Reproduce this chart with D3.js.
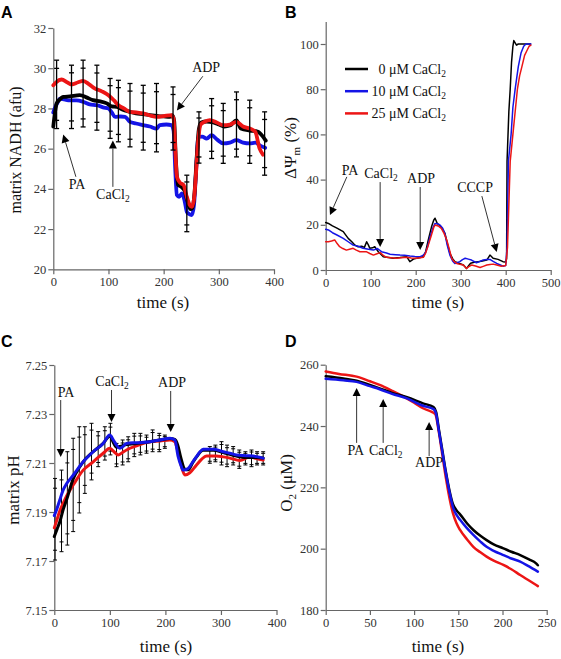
<!DOCTYPE html>
<html><head><meta charset="utf-8">
<script src="https://cdn.jsdelivr.net/npm/d3@7"></script>
<style>body{margin:0;background:#fff} svg, svg text, svg tspan{font-family:"Liberation Serif","Times New Roman",Times,serif}</style>
</head><body><svg id="c" width="561" height="659" style="font-family:'Liberation Serif',serif"></svg>
<script>
// ---------- DATA ----------
const seriesNames = ["0 μM CaCl", "10 μM CaCl", "25 μM CaCl"];
const seriesColors = ["#000000", "#1414e6", "#ec1515"];

// Panel A: matrix NADH (afu) vs time (s)
const nadh0 = [[0,27.1],[3,27.8],[6,28.25],[12,28.45],[18,28.57],[30,28.6],[48,28.66],[60,28.55],[72,28.41],[85,28.35],[97,28.25],[106,28.1],[115,28.08],[125,27.95],[139,27.83],[150,27.75],[163,27.72],[175,27.67],[190,27.62],[200,27.6],[211,27.58],[216,27.65],[219,27.4],[222,25.5],[226,24.2],[232,24.1],[238,23.9],[243,23.4],[248,23.0],[252,23.05],[256,23.8],[260,25.6],[264,27.0],[268,27.3],[278,27.35],[290,27.3],[300,27.2],[310,27.1],[320,27.15],[332,27.4],[340,27.0],[356,26.9],[370,26.85],[380,26.6],[385,26.4]];
const nadh10 = [[0,27.8],[4,28.1],[8,28.3],[12,28.49],[20,28.45],[30,28.4],[42,28.4],[54,28.33],[66,28.2],[79,28.16],[90,28.05],[100,28.0],[106,27.8],[112,27.58],[122,27.6],[130,27.58],[139,27.33],[150,27.25],[163,27.17],[175,27.1],[187,27.0],[193,27.17],[205,27.2],[214,27.17],[218,26.9],[221,25.0],[224,23.69],[228,23.6],[233,23.77],[238,23.4],[242,22.86],[246,22.75],[251,22.7],[255,23.2],[259,25.0],[263,26.59],[270,26.6],[278,26.5],[287,26.67],[297,26.45],[308,26.26],[320,26.3],[332,26.42],[344,26.3],[356,26.26],[366,26.3],[375,26.15],[384,26.04]];
const nadh25 = [[0,29.15],[5,29.3],[15,29.44],[25,29.3],[33,29.19],[45,29.3],[54,29.37],[65,29.2],[75,29.0],[88,28.85],[100,28.66],[110,28.4],[118,28.16],[128,28.0],[139,27.83],[150,27.8],[163,27.75],[175,27.65],[187,27.58],[200,27.62],[214,27.67],[218,27.5],[221,26.0],[224,24.6],[230,24.3],[236,24.2],[242,23.6],[247,23.2],[251,23.1],[255,23.5],[258,24.5],[262,26.2],[267,27.2],[275,27.35],[284,27.42],[296,27.3],[308,27.17],[320,27.2],[332,27.33],[344,27.1],[356,27.0],[366,26.84],[374,26.0],[380,25.7]];
// error bars: [time, upper, lower]
const nadhErr = [[6,30.4,27.0],[33,30.15,27.0],[54,30.4,27.08],[79,30.15,26.92],[103,29.49,26.51],[118,29.4,26.34],[139,29.24,26.09],[163,29.15,25.93],[187,29.24,25.84],[217,29.07,25.93],[242,24.68,21.87],[264,27.83,25.28],[287,28.49,25.51],[308,28.25,25.27],[332,28.82,25.59],[356,28.41,25.27],[383,27.83,24.68]];

// Panel B: ΔΨm (%) vs time (s)
const psi0 = [[0,21],[6,20.6],[15,19.5],[25,18.5],[39,17],[50,14],[58,12.5],[65,11],[72,10.3],[80,10.5],[86,10],[91,12.5],[95,11],[98,9.6],[104,9.8],[109,10.3],[117,8.1],[128,5.9],[140,5.5],[150,5.2],[165,5.5],[180,5.9],[187,3.7],[195,4.8],[202,5.2],[210,5.5],[217,5.9],[222,8],[228,13.3],[235,19],[240,22],[243,22.9],[248,20.6],[257,19],[265,16.2],[270,12],[276,7.4],[282,5],[287,3.7],[296,3],[306,2.2],[313,0.7],[318,2],[322,3],[330,3.4],[339,3.7],[348,4],[358,4.4],[365,6.6],[372,5.2],[383,4.7],[394,3.7],[400,3.5],[402,5],[403,48],[407,70],[410,80],[413,92],[416,99],[418,101.5],[421,100.5],[424,99.5],[428,100],[440,100],[455,100]];
const psi10 = [[0,18],[6,17.7],[15,16.5],[25,15.5],[39,14],[50,12.5],[61,11],[72,10.5],[83,9.6],[95,9.2],[106,8.8],[115,9.5],[124,8.1],[135,7.5],[143,7],[155,6.8],[165,6.6],[175,6.5],[187,6.2],[198,6.0],[210,5.9],[216,6.5],[221,7.4],[226,10],[232,14.8],[238,18.5],[243,20.6],[250,20.4],[254,19.9],[260,18.5],[265,16],[270,11],[276,6.6],[282,4],[287,2.9],[298,3.7],[304,4.6],[310,5.2],[317,4.8],[324,4.4],[335,3.2],[343,3.8],[350,4.4],[358,4.6],[365,4.7],[372,3.8],[380,2.9],[388,2.2],[394,1.7],[400,2],[403,10],[406,48],[412,60],[416,72],[421,80],[428,90],[434,96],[440,99],[445,100],[456,100]];
const psi25 = [[0,12.5],[6,12.5],[13,12.8],[20,13.3],[25,11.8],[31,10.3],[38,9.5],[46,8.8],[53,9.2],[61,9.6],[68,8.8],[76,8.1],[90,8.1],[98,7.3],[106,6.6],[114,7.2],[121,7.7],[128,6.5],[135,5.6],[145,5.4],[157,5.2],[168,5.4],[180,5.6],[190,5.3],[202,5.2],[210,5.4],[217,5.6],[222,7.5],[228,11],[235,15.5],[240,18.8],[243,19.9],[250,19.5],[257,18.4],[263,16.2],[269,13.3],[275,9],[280,5.2],[285,3.8],[291,2.9],[298,2.5],[306,2.2],[313,0.7],[318,1.5],[324,2.2],[333,1.8],[343,1.1],[350,1.6],[358,2.2],[365,2.4],[372,2.6],[380,2.2],[390,1.7],[400,2],[404,10],[410,48],[416,60],[421,70],[426,80],[431,86],[436,90],[442,95],[447,97],[452,99],[456,99.5]];

// Panel C: matrix pH vs time (s)
const ph0 = [[0,7.18],[5,7.183],[10,7.186],[16,7.191],[22,7.1949],[34,7.2035],[46,7.2085],[52,7.2105],[70,7.2146],[88,7.218],[100,7.221],[106,7.2185],[112,7.2165],[118,7.2168],[130,7.2175],[148,7.218],[172,7.2187],[190,7.2194],[208,7.22],[217,7.2196],[222,7.2175],[228,7.212],[235,7.2075],[241,7.2072],[250,7.2105],[256,7.2125],[268,7.2152],[286,7.2152],[304,7.2143],[316,7.2135],[328,7.2128],[346,7.2122],[364,7.2122],[376,7.212]];
const ph10 = [[0,7.1885],[5,7.1915],[10,7.195],[16,7.199],[22,7.2015],[34,7.205],[52,7.2105],[70,7.2146],[88,7.218],[100,7.2214],[106,7.2195],[112,7.2173],[118,7.216],[124,7.2168],[130,7.218],[148,7.2183],[172,7.2187],[190,7.2194],[208,7.2201],[217,7.2194],[223,7.2126],[228,7.209],[232,7.2071],[241,7.2078],[248,7.21],[256,7.2126],[262,7.2145],[268,7.2156],[286,7.2156],[304,7.2146],[316,7.214],[328,7.2133],[346,7.213],[364,7.2126],[376,7.212]];
const ph25 = [[0,7.1835],[5,7.187],[10,7.1905],[16,7.1936],[22,7.1965],[34,7.201],[52,7.2071],[70,7.2105],[88,7.214],[100,7.216],[108,7.2145],[115,7.2133],[122,7.2142],[130,7.2153],[148,7.217],[172,7.2187],[190,7.219],[208,7.2194],[217,7.2187],[221,7.216],[226,7.2112],[231,7.207],[235,7.2051],[244,7.206],[256,7.2092],[265,7.2115],[274,7.2129],[292,7.2129],[304,7.2125],[316,7.212],[334,7.211],[352,7.2126],[364,7.2118],[376,7.2112]];
const phErr = [[1.3,7.2037,7.1704],[13,7.2071,7.1738],[23.5,7.2146,7.1765],[34,7.2201,7.182],[45,7.2248,7.1896],[55,7.2248,7.1976],[67,7.2262,7.2031],[79,7.2228,7.2085],[91,7.2248,7.2112],[101,7.2262,7.2133],[112,7.218,7.2085],[123,7.2194,7.2092],[133,7.2207,7.2105],[144,7.2221,7.2126],[155,7.2221,7.2133],[166,7.2214,7.214],[177,7.2235,7.2146],[189,7.2221,7.2146],[199,7.2214,7.216],[280,7.2167,7.2099],[290,7.2173,7.2105],[301,7.2187,7.2092],[311,7.2173,7.2085],[322,7.2167,7.2092],[333,7.2153,7.2078],[344,7.2146,7.2092],[355,7.2153,7.2085],[365,7.2146,7.2092],[376,7.2146,7.2092]];

// Panel D: O2 (μM) vs time (s)
const o2_0 = [[0,256.2],[20,255.5],[35,254.8],[50,253.4],[61,252.3],[75,250.8],[92,249.4],[110,247.4],[122,246.2],[125,244.5],[128,239],[132,232],[136,225],[140,219],[144,214.5],[148,212.5],[152,211.2],[160,208.2],[167,206.1],[175,204.2],[182,202.8],[190,201.4],[201,200.1],[210,199],[220,197.9],[230,196.5],[238,195.2],[240,194.6]];
const o2_10 = [[0,255.4],[20,254.9],[35,254.4],[50,253],[61,252],[75,250.5],[92,249],[110,246.6],[122,245.5],[125,243.8],[128,238.5],[132,231.5],[136,224.5],[140,218.5],[144,213.5],[148,211],[152,209.4],[160,206.6],[167,204.5],[175,202.3],[182,200.6],[190,199.3],[201,197.9],[210,196.8],[220,195.8],[230,194.2],[240,192.5]];
const o2_25 = [[0,257.8],[15,257],[35,256.1],[50,254.6],[61,253.4],[75,251.5],[88,249.6],[100,247.6],[110,245.8],[120,244.6],[124,243.8],[128,238],[132,230.5],[136,223],[140,216.5],[144,211.5],[148,208.3],[152,206.1],[160,203],[167,200.6],[175,198.8],[182,197.4],[190,196.1],[201,194.7],[210,193.3],[220,191.4],[230,189.6],[240,187.8]];

// tick labels
const ticksA_x = [0,100,200,300,400], ticksA_y = [20,22,24,26,28,30,32];
const ticksB_x = [0,100,200,300,400,500], ticksB_y = [0,20,40,60,80,100];
const ticksC_x = [0,100,200,300,400], ticksC_y = [7.15,7.17,7.19,7.21,7.23,7.25];
const ticksD_x = [0,50,100,150,200,250], ticksD_y = [180,200,220,240,260];

// annotations: label, subscript, text pos [t,v], arrow from [t,v] to tip [t,v]
const annotA = [
  {label:"ADP", sub:"", at:[277,29.8], from:[271,29.6], to:[224,27.9]},
  {label:"PA", sub:"", at:[43,24.0], from:[41,24.6], to:[18,26.7]},
  {label:"CaCl", sub:"2", at:[108,23.5], from:[108,24.1], to:[108,26.4]}];
const annotB = [
  {label:"PA", sub:"", at:[54,42], from:[47,41.2], to:[9.5,24.3]},
  {label:"CaCl", sub:"2", at:[123,40.7], from:[121,38.9], to:[121,10.2]},
  {label:"ADP", sub:"", at:[212,38.5], from:[210,36.7], to:[210,8.8]},
  {label:"CCCP", sub:"", at:[332,34.5], from:[347,32.7], to:[380,8]}];
const annotC = [
  {label:"PA", sub:"", at:[21,7.2369], from:[11.5,7.2357], to:[11.5,7.2124]},
  {label:"CaCl", sub:"2", at:[104,7.2414], from:[103,7.2398], to:[103,7.2267]},
  {label:"ADP", sub:"", at:[212,7.241], from:[209.5,7.2394], to:[209.5,7.2227]}];
const annotD = [
  {label:"PA", sub:"", at:[34,230.6], from:[35,234.5], to:[35,252.4]},
  {label:"CaCl", sub:"2", at:[68,230.6], from:[65,234.5], to:[65,248.8]},
  {label:"ADP", sub:"", at:[117,226.6], from:[117,230.2], to:[117,241.3]}];

// ---------- DRAWING ----------
const svg = d3.select("#c");
const SERIF = "Liberation Serif, Times New Roman, serif";
const AX = "#666", TX = "#333";

function panel(cfg){
  const x = d3.scaleLinear().domain(cfg.xDomain).range(cfg.xRange);
  const y = d3.scaleLinear().domain(cfg.yDomain).range(cfg.yRange);
  const g = svg.append("g");
  const ya = g.append("g").attr("transform",`translate(${cfg.xRange[0]},0)`)
    .call(d3.axisLeft(y).tickValues(cfg.yTicks).tickSize(5).tickSizeOuter(0).tickPadding(2).tickFormat(cfg.yFmt));
  const xa = g.append("g").attr("transform",`translate(0,${cfg.yRange[0]})`)
    .call(d3.axisBottom(x).tickValues(cfg.xTicks).tickSize(5).tickSizeOuter(0).tickPadding(3).tickFormat(d3.format("d")));
  [ya,xa].forEach(a=>{
    a.attr("font-family",SERIF).attr("font-size",12.5);
    a.select(".domain").attr("stroke",AX).attr("stroke-width",1.2);
    a.selectAll(".tick line").attr("stroke",AX).attr("stroke-width",1.2);
    a.selectAll(".tick text").attr("fill",TX).style("font-family",SERIF);
  });
  svg.append("text").attr("x",cfg.letterPos[0]).attr("y",cfg.letterPos[1])
    .style("font-family","Liberation Sans, Arial, sans-serif").attr("font-weight","bold")
    .attr("font-size",16).text(cfg.letter);
  svg.append("text").attr("x",cfg.xTitlePos[0]).attr("y",cfg.xTitlePos[1]).attr("text-anchor","middle")
    .attr("font-size",17).attr("fill","#111").text("time (s)");
  const yt = svg.append("text").attr("transform",`translate(${cfg.yTitlePos[0]},${cfg.yTitlePos[1]}) rotate(-90)`)
    .attr("text-anchor","middle").attr("font-size",cfg.yTitleSize).attr("fill","#111");
  cfg.yTitle.forEach(p=>{
    const t = yt.append("tspan").text(p.t);
    if(p.sub){ t.attr("font-size",11).attr("dy",4); }
    if(p.back){ t.attr("dy",-4); }
  });
  return {x,y,g};
}

function drawLines(P, data, widths, order, curve){
  const line = d3.line().x(d=>P.x(d[0])).y(d=>P.y(d[1])).curve(curve);
  order.forEach(i=>{
    P.g.append("path").datum(data[i]).attr("d",line).attr("fill","none")
      .attr("stroke",seriesColors[i]).attr("stroke-width",widths).attr("stroke-linejoin","round").attr("stroke-linecap","round");
  });
}

function drawErr(P, err, capW, sw){
  const g = P.g.append("g").attr("stroke","#000").attr("stroke-width",sw);
  err.forEach(e=>{
    const xx = P.x(e[0]), y1 = P.y(e[1]), y2 = P.y(e[2]);
    g.append("line").attr("x1",xx).attr("x2",xx).attr("y1",y1).attr("y2",y2);
    const span = y2-y1;
    [y1, y2, y1+span*0.12, y2-span*0.12].forEach(yy=>{
      g.append("line").attr("x1",xx-capW/2).attr("x2",xx+capW/2).attr("y1",yy).attr("y2",yy);
    });
  });
}

function drawAnnot(P, list){
  list.forEach(a=>{
    const t = P.g.append("text").attr("x",P.x(a.at[0])).attr("y",P.y(a.at[1]))
      .attr("text-anchor","middle").attr("font-size",14).attr("fill","#111");
    t.append("tspan").text(a.label);
    if(a.sub) t.append("tspan").attr("font-size",9.5).attr("dy",3).text(a.sub);
    const x1=P.x(a.from[0]), y1=P.y(a.from[1]), x2=P.x(a.to[0]), y2=P.y(a.to[1]);
    const ang = Math.atan2(y2-y1, x2-x1), L=8, W=8;
    const bx = x2 - L*Math.cos(ang), by = y2 - L*Math.sin(ang);
    P.g.append("line").attr("x1",x1).attr("y1",y1).attr("x2",bx).attr("y2",by)
      .attr("stroke","#333").attr("stroke-width",1);
    const px = -Math.sin(ang)*W/2, py = Math.cos(ang)*W/2;
    P.g.append("path").attr("d",`M${x2},${y2}L${bx+px},${by+py}L${bx-px},${by-py}Z`).attr("fill","#000");
  });
}

// Panel A
const PA = panel({xDomain:[0,400], xRange:[53.3,274], yDomain:[20,32], yRange:[269.3,28],
  xTicks:ticksA_x, yTicks:ticksA_y, yFmt:d3.format("d"), letter:"A", letterPos:[1,18],
  xTitlePos:[163,308], yTitlePos:[21,150], yTitleSize:16, yTitle:[{t:"matrix NADH (afu)"}]});
drawLines(PA, [nadh0,nadh10,nadh25], 3.8, [1,0,2], d3.curveMonotoneX);
drawErr(PA, nadhErr, 5, 1.3);
drawAnnot(PA, annotA);

// Panel B
const PB = panel({xDomain:[0,500], xRange:[325.7,550.7], yDomain:[0,110], yRange:[270,21.4],
  xTicks:ticksB_x, yTicks:ticksB_y, yFmt:d3.format("d"), letter:"B", letterPos:[285,18],
  xTitlePos:[438,308], yTitlePos:[296,148], yTitleSize:17, yTitle:[{t:"ΔΨ"},{t:"m",sub:true},{t:" (%)",back:true}]});
drawLines(PB, [psi0,psi10,psi25], 1.5, [0,1,2], d3.curveLinear);
drawAnnot(PB, annotB);
seriesNames.forEach((n,i)=>{
  const yy = 69 + i*22.2;
  svg.append("line").attr("x1",345).attr("x2",368).attr("y1",yy).attr("y2",yy)
    .attr("stroke",seriesColors[i]).attr("stroke-width",2.5);
  const t = svg.append("text").attr("x",446).attr("y",yy+4.5).attr("text-anchor","end").attr("font-size",14).attr("fill","#111");
  t.append("tspan").text(n);
  t.append("tspan").attr("font-size",9.5).attr("dy",3).text("2");
});

// Panel C
const PC = panel({xDomain:[0,400], xRange:[54.3,276.5], yDomain:[7.15,7.25], yRange:[610,365],
  xTicks:ticksC_x, yTicks:ticksC_y, yFmt:d3.format(".2f"), letter:"C", letterPos:[1,347],
  xTitlePos:[166,652], yTitlePos:[19,490], yTitleSize:17, yTitle:[{t:"matrix pH"}]});
drawErr(PC, phErr, 4, 1);
drawLines(PC, [ph0,ph10,ph25], 3, [2,0,1], d3.curveMonotoneX);
drawAnnot(PC, annotC);

// Panel D
const PD = panel({xDomain:[0,250], xRange:[325.7,546.7], yDomain:[180,260], yRange:[610,364.7],
  xTicks:ticksD_x, yTicks:ticksD_y, yFmt:d3.format("d"), letter:"D", letterPos:[285,347],
  xTitlePos:[438,652], yTitlePos:[292,483], yTitleSize:17, yTitle:[{t:"O"},{t:"2",sub:true},{t:" (μM)",back:true}]});
drawLines(PD, [o2_0,o2_10,o2_25], 2.5, [2,0,1], d3.curveMonotoneX);
drawAnnot(PD, annotD);
</script></body></html>
